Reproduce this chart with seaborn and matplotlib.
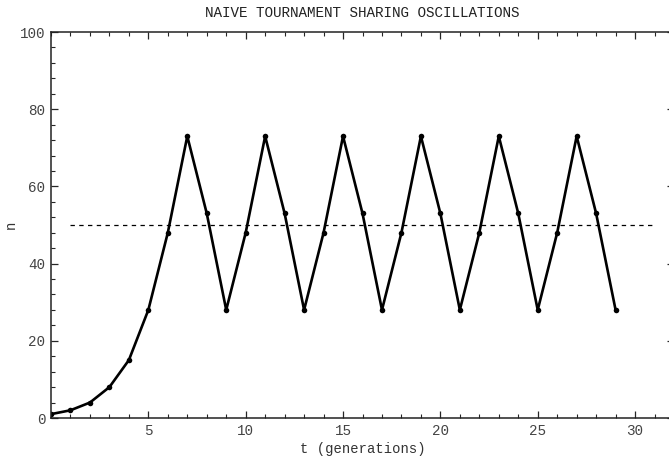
import numpy as np
import pandas as pd
import matplotlib
matplotlib.use('Agg')
import matplotlib.pyplot as plt
from matplotlib.ticker import MultipleLocator
import seaborn as sns

# generations and population counts
t = list(range(30))
n = [1, 2, 4, 8, 15, 28, 48, 73, 53, 28,
     48, 73, 53, 28, 48, 73, 53, 28, 48, 73,
     53, 28, 48, 73, 53, 28, 48, 73, 53, 28]
eq_level = 50
eq_span = [1, 31]

df = pd.DataFrame({'t': t, 'n': n})

sns.set_style('ticks')
plt.rcParams['font.family'] = ['Liberation Mono', 'DejaVu Sans Mono']

fig = plt.figure(figsize=(6.69, 4.59), dpi=100)
ax = fig.add_axes([51 / 669, 1 - 418 / 459, 1 - 51 / 669 + 5 / 669, (418 - 32) / 459])

sns.lineplot(data=df, x='t', y='n', ax=ax, color='black', linewidth=1.9,
             marker='o', markersize=4, markeredgewidth=0)
ax.plot(eq_span, [eq_level, eq_level], color='black', linestyle=(0, (3.5, 3.5)), linewidth=0.9)

ax.set_xlim(0, 32.0)
ax.set_ylim(0, 100)
ax.xaxis.set_major_locator(MultipleLocator(5))
ax.xaxis.set_minor_locator(MultipleLocator(1))
ax.yaxis.set_major_locator(MultipleLocator(20))
ax.yaxis.set_minor_locator(MultipleLocator(4))
ax.set_xticks([5, 10, 15, 20, 25, 30])

ax.tick_params(axis='both', which='major', direction='in', length=5, width=0.9,
               labelsize=10.3, labelcolor='#444444', top=True, right=True, pad=4)
ax.tick_params(axis='both', which='minor', direction='in', length=3, width=0.8,
               top=True, right=False)
ax.spines['right'].set_visible(False)
for s in ['left', 'top', 'bottom']:
    ax.spines[s].set_linewidth(1.1)
    ax.spines[s].set_color('#222222')

ax.set_title('NAIVE TOURNAMENT SHARING OSCILLATIONS', fontsize=10.3, color='#222222', pad=11)
ax.set_xlabel('t (generations)', fontsize=10, color='#333333', labelpad=3)
ax.set_ylabel('n', fontsize=10, color='#333333', labelpad=4)
ax.yaxis.set_label_coords(-0.053, 0.5)

fig.savefig('out.png', dpi=100)
